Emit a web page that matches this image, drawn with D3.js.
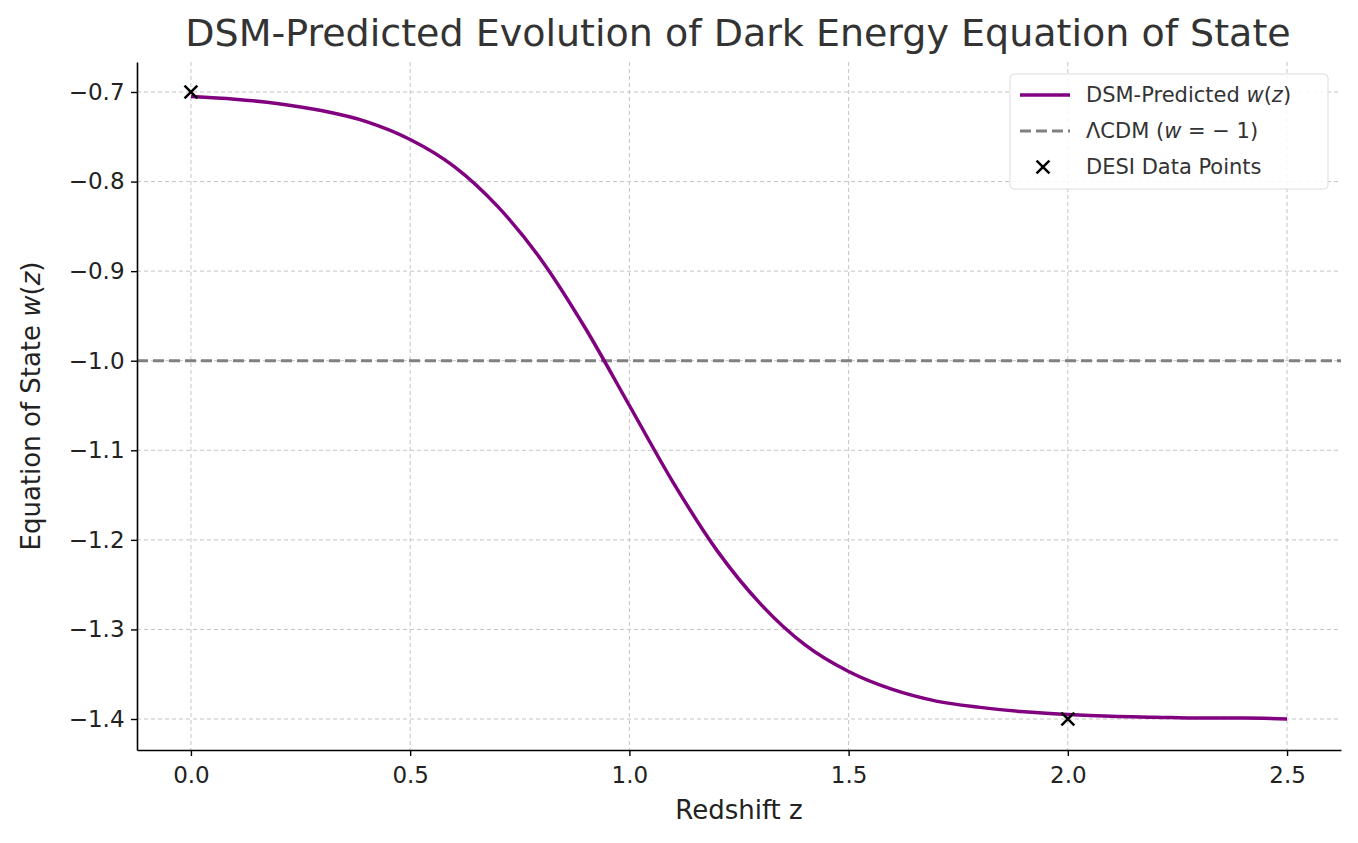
<!DOCTYPE html>
<html><head><meta charset="utf-8">
<script src="https://cdn.jsdelivr.net/npm/d3@7"></script>
<style>body{margin:0;background:#fff}text{font-family:"DejaVu Sans",sans-serif}</style>
</head><body><svg id="chart" width="1358" height="843"></svg>
<script>
var zValues = [0,0.1,0.2,0.3,0.4,0.5,0.6,0.7,0.8,0.9,1.0,1.1,1.2,1.3,1.4,1.5,1.6,1.7,1.8,1.9,2.0,2.1,2.2,2.3,2.4,2.5]
var wValues = [-0.705,-0.708,-0.713,-0.721,-0.733,-0.753,-0.783,-0.828,-0.888,-0.964,-1.05,-1.136,-1.212,-1.272,-1.317,-1.347,-1.367,-1.380,-1.387,-1.392,-1.395,-1.397,-1.398,-1.399,-1.399,-1.400]
var desiZ = [0, 2]
var desiW = [-0.7, -1.4]
var xTicks = [0,0.5,1,1.5,2,2.5]
var yTicks = [-0.7,-0.8,-0.9,-1.0,-1.1,-1.2,-1.3,-1.4]

var svg = d3.select('#chart')
var L = 137, R = 1341, T = 62, B = 750
var x = d3.scaleLinear().domain([-0.123, 2.623]).range([L, R])
var y = d3.scaleLinear().domain([-0.6665, -1.4346]).range([T, B])
var minus = v => d3.format('.1f')(v).replace('-', '\u2212')

var grid = svg.append('g').attr('stroke', '#c4c4c4').attr('stroke-dasharray', '4,3').attr('stroke-width', 1)
xTicks.forEach(t => grid.append('line').attr('x1', x(t)).attr('x2', x(t)).attr('y1', T).attr('y2', B))
yTicks.forEach(t => grid.append('line').attr('x1', L).attr('x2', R).attr('y1', y(t)).attr('y2', y(t)))

svg.append('line').attr('x1', L).attr('x2', R).attr('y1', y(-1)).attr('y2', y(-1))
  .attr('stroke', '#808080').attr('stroke-width', 3).attr('stroke-dasharray', '11,5')

var line = d3.line().x((d, i) => x(zValues[i])).y(d => y(d)).curve(d3.curveMonotoneX)
svg.append('path').datum(wValues).attr('d', line).attr('fill', 'none')
  .attr('stroke', '#800080').attr('stroke-width', 3.5)

var cross = d3.symbol().type(d3.symbolX).size(110)
desiZ.forEach((z, i) => svg.append('path').attr('d', cross)
  .attr('transform', `translate(${x(z)},${y(desiW[i])})`).attr('stroke', '#000').attr('stroke-width', 2.5))

var xa = svg.append('g').attr('transform', `translate(0,${B})`)
  .call(d3.axisBottom(x).tickValues(xTicks).tickFormat(d3.format('.1f')).tickSize(6).tickSizeOuter(0))
var ya = svg.append('g').attr('transform', `translate(${L},0)`)
  .call(d3.axisLeft(y).tickValues(yTicks).tickFormat(minus).tickSize(6).tickSizeOuter(0))
;[xa, ya].forEach(a => {
  a.selectAll('text').attr('font-size', 23).attr('fill', '#222')
  a.select('.domain').attr('stroke-width', 1.6)
  a.selectAll('.tick line').attr('stroke-width', 1.4)
})
xa.selectAll('text').attr('dy', '1.05em')
ya.selectAll('text').attr('dx', '-0.15em')

svg.append('text').attr('x', 738).attr('y', 46).attr('text-anchor', 'middle').attr('font-size', 38)
  .attr('fill', '#333').text('DSM-Predicted Evolution of Dark Energy Equation of State')
svg.append('text').attr('x', 739).attr('y', 819).attr('text-anchor', 'middle').attr('font-size', 26)
  .attr('fill', '#222').text('Redshift z')
var yl = svg.append('text').attr('transform', 'translate(40,406) rotate(-90)').attr('text-anchor', 'middle')
  .attr('font-size', 26).attr('fill', '#222')
yl.append('tspan').text('Equation of State ')
yl.append('tspan').attr('font-style', 'italic').text('w')
yl.append('tspan').text('(')
yl.append('tspan').attr('font-style', 'italic').text('z')
yl.append('tspan').text(')')

// legend
var lg = svg.append('g').attr('transform', 'translate(1010,74)')
lg.append('rect').attr('width', 318).attr('height', 115).attr('rx', 4).attr('fill', '#fff')
  .attr('fill-opacity', 0.85).attr('stroke', '#ddd')
lg.append('line').attr('x1', 10).attr('x2', 60).attr('y1', 21).attr('y2', 21).attr('stroke', '#800080').attr('stroke-width', 3.5)
lg.append('line').attr('x1', 10).attr('x2', 60).attr('y1', 57).attr('y2', 57).attr('stroke', '#808080').attr('stroke-width', 3).attr('stroke-dasharray', '11,5')
lg.append('path').attr('d', cross).attr('transform', 'translate(33,93)').attr('stroke', '#000').attr('stroke-width', 2.5)
var t1 = lg.append('text').attr('x', 76).attr('y', 28).attr('font-size', 21).attr('fill', '#333')
t1.append('tspan').text('DSM-Predicted ')
t1.append('tspan').attr('font-style', 'italic').text('w')
t1.append('tspan').text('(')
t1.append('tspan').attr('font-style', 'italic').text('z')
t1.append('tspan').text(')')
var t2 = lg.append('text').attr('x', 76).attr('y', 64).attr('font-size', 21).attr('fill', '#333')
t2.append('tspan').text('\u039BCDM (')
t2.append('tspan').attr('font-style', 'italic').text('w')
t2.append('tspan').text(' = \u2212 1)')
lg.append('text').attr('x', 76).attr('y', 100).attr('font-size', 21).attr('fill', '#333').text('DESI Data Points')
</script></body></html>
